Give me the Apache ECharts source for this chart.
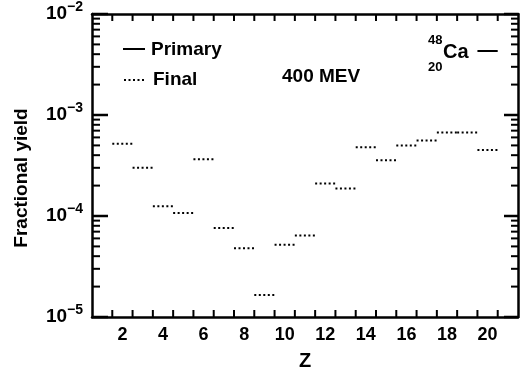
<!DOCTYPE html>
<html>
<head>
<meta charset="utf-8">
<script src="https://cdn.jsdelivr.net/npm/echarts@6/dist/echarts.min.js"></script>
<style>
  html, body { margin: 0; padding: 0; background: #fff; }
  #main { width: 523px; height: 376px; }
</style>
</head>
<body>
<div id="main"></div>
<script>
// fragment charge Z and final fractional yield (dotted bars)
const zValues = [2, 3, 4, 5, 6, 7, 8, 9, 10, 11, 12, 13, 14, 15, 16, 17, 18, 19, 20];
const finalYield = [5.2e-4, 3.0e-4, 1.25e-4, 1.07e-4, 3.65e-4, 7.6e-5, 4.8e-5, 1.65e-5, 5.2e-5,
                    6.4e-5, 2.1e-4, 1.87e-4, 4.8e-4, 3.57e-4, 5.0e-4, 5.6e-4, 6.7e-4, 6.7e-4, 4.5e-4];
// primary yield (solid bar), only 48Ca itself
const primaryZ = [20];
const primaryYield = [4.3e-3];

// ticks sit on the bin edges, labels on even Z
const xTickValues = [1.5, 2.5, 3.5, 4.5, 5.5, 6.5, 7.5, 8.5, 9.5, 10.5, 11.5, 12.5, 13.5, 14.5, 15.5, 16.5, 17.5, 18.5, 19.5, 20.5];
const xLabelValues = [2, 4, 6, 8, 10, 12, 14, 16, 18, 20];
const yDecades = [1e-5, 1e-4, 1e-3, 1e-2];

const yMinorValues = [];
yDecades.slice(0, 3).forEach(d => {
  for (let k = 2; k <= 9; k++) yMinorValues.push(+(k * d).toPrecision(3));
});

const X_MIN = 0.5, X_MAX = 21.5;
const Y_MIN = 1e-5, Y_MAX = 1e-2;

const FONT = '"Liberation Sans", Arial, Helvetica, sans-serif';
const INK = '#000';

// one horizontal bar per Z, spanning Z-0.5 .. Z+0.5
const barItem = (dash) => (params, api) => {
  const z = api.value(0);
  const v = api.value(1);
  const p0 = api.coord([z - 0.5, v]);
  const p1 = api.coord([z + 0.5, v]);
  return {
    type: 'line',
    shape: { x1: p0[0], y1: p0[1], x2: p1[0], y2: p1[1] },
    style: { stroke: INK, lineWidth: 2, lineDash: dash }
  };
};

// inward ticks on bottom + top frame, placed through the x scale
const xTickItem = (len, w) => (params, api) => {
  const x = api.value(0);
  const b = api.coord([x, Y_MIN]);
  const t = api.coord([x, Y_MAX]);
  return {
    type: 'group',
    children: [
      { type: 'line', shape: { x1: b[0], y1: b[1], x2: b[0], y2: b[1] - len }, style: { stroke: INK, lineWidth: w } },
      { type: 'line', shape: { x1: t[0], y1: t[1], x2: t[0], y2: t[1] + len }, style: { stroke: INK, lineWidth: w } }
    ]
  };
};

// inward ticks on left + right frame, placed through the log y scale
const yTickItem = (lenL, lenR, w) => (params, api) => {
  const v = api.value(1);
  const l = api.coord([X_MIN, v]);
  const r = api.coord([X_MAX, v]);
  return {
    type: 'group',
    children: [
      { type: 'line', shape: { x1: l[0], y1: l[1], x2: l[0] + lenL, y2: l[1] }, style: { stroke: INK, lineWidth: w } },
      { type: 'line', shape: { x1: r[0], y1: r[1], x2: r[0] - lenR, y2: r[1] }, style: { stroke: INK, lineWidth: w } }
    ]
  };
};

const xAxisOf = (extra) => Object.assign({
  type: 'value', min: X_MIN, max: X_MAX,
  axisLine: { show: true, lineStyle: { color: INK, width: 2.5 } },
  axisTick: { show: false },
  axisLabel: { show: false },
  splitLine: { show: false }
}, extra || {});

const yAxisOf = (extra) => Object.assign({
  type: 'log', min: Y_MIN, max: Y_MAX,
  axisLine: { show: true, lineStyle: { color: INK, width: 2.5 } },
  axisTick: { show: false },
  axisLabel: { show: false },
  splitLine: { show: false }
}, extra || {});

const tickSeries = (data, render) => ({
  type: 'custom', xAxisIndex: 0, yAxisIndex: 0, silent: true, clip: false, z: 5,
  renderItem: render, encode: { x: 0, y: 1 }, data: data
});

const myChart = echarts.init(document.getElementById('main'));
myChart.setOption({
  animation: false,
  backgroundColor: '#fff',
  grid: { left: 92, right: 5, top: 14, bottom: 53 },
  xAxis: [
    xAxisOf({
      axisLabel: {
        customValues: xLabelValues, color: '#000', fontSize: 18, fontWeight: 'bold',
        fontFamily: FONT, margin: 9
      },
      name: 'Z', nameLocation: 'middle', nameGap: 34,
      nameTextStyle: { color: '#000', fontSize: 20, fontWeight: 'bold', fontFamily: FONT }
    }),
    xAxisOf()
  ],
  yAxis: [
    yAxisOf({
      axisLabel: {
        customValues: yDecades, margin: 9,
        formatter: v => '{b|10}{s|\u2212' + (-Math.round(Math.log10(v))) + '}',
        rich: {
          b: { fontSize: 19, fontWeight: 'bold', color: '#000', fontFamily: FONT },
          s: { fontSize: 14, fontWeight: 'bold', color: '#000', fontFamily: FONT, padding: [0, 0, 14, 0] }
        }
      }
    }),
    yAxisOf()
  ],
  series: [
    tickSeries(xTickValues.map(v => [v, Y_MIN]), xTickItem(7, 2)),
    tickSeries(yDecades.map(v => [X_MIN, v]), yTickItem(16, 14, 2.5)),
    tickSeries(yMinorValues.map(v => [X_MIN, v]), yTickItem(8, 7, 2)),
    {
      name: 'Primary', type: 'custom', xAxisIndex: 0, yAxisIndex: 0,
      renderItem: barItem(null),
      encode: { x: 0, y: 1 },
      data: primaryZ.map((z, i) => [z, primaryYield[i]])
    },
    {
      name: 'Final', type: 'custom', xAxisIndex: 0, yAxisIndex: 0,
      renderItem: barItem([2, 2.5]),
      encode: { x: 0, y: 1 },
      data: zValues.map((z, i) => [z, finalYield[i]])
    }
  ],
  graphic: [
    // y axis title
    {
      type: 'text', x: 22, y: 178, rotation: Math.PI / 2,
      style: { text: 'Fractional yield', fill: '#000', font: 'bold 19px ' + FONT, align: 'center', verticalAlign: 'middle' }
    },
    // legend
    { type: 'line', shape: { x1: 123, y1: 49, x2: 145, y2: 49 }, style: { stroke: INK, lineWidth: 2 } },
    { type: 'text', x: 151, y: 50, style: { text: 'Primary', fill: '#000', font: 'bold 19px ' + FONT, verticalAlign: 'middle' } },
    { type: 'line', shape: { x1: 124, y1: 80, x2: 145, y2: 80 }, style: { stroke: INK, lineWidth: 2, lineDash: [2, 2.5] } },
    { type: 'text', x: 153, y: 80, style: { text: 'Final', fill: '#000', font: 'bold 19px ' + FONT, verticalAlign: 'middle' } },
    // beam energy
    { type: 'text', x: 282, y: 77, style: { text: '400 MEV', fill: '#000', font: 'bold 19px ' + FONT, verticalAlign: 'middle' } },
    // projectile
    { type: 'text', x: 428, y: 40, style: { text: '48', fill: '#000', font: 'bold 13px ' + FONT, verticalAlign: 'middle' } },
    { type: 'text', x: 443, y: 52, style: { text: 'Ca', fill: '#000', font: 'bold 20px ' + FONT, verticalAlign: 'middle' } },
    { type: 'text', x: 428, y: 67, style: { text: '20', fill: '#000', font: 'bold 13px ' + FONT, verticalAlign: 'middle' } }
  ]
});
</script>
</body>
</html>
